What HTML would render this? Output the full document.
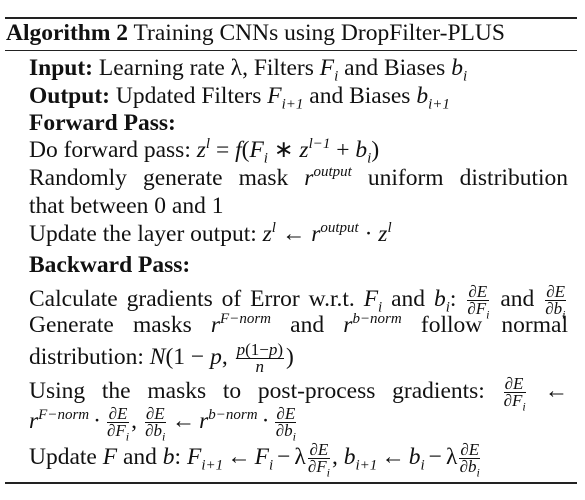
<!DOCTYPE html>
<html><head><meta charset="utf-8">
<style>
body{margin:0;background:#fff;width:585px;height:500px;overflow:hidden;position:relative;font-family:"Liberation Serif",serif;color:#111;}
.rule{position:absolute;left:5px;width:572px;background:#222;}
.ln{position:absolute;left:29px;width:539px;font-size:23.5px;line-height:22px;white-space:nowrap;}
.j{white-space:normal;text-align:justify;text-align-last:justify;height:22px;overflow:visible;}
i{font-style:italic;}
sup,sub{font-size:15px;line-height:0;}
sup i,sub i{font-size:15px;}
.fr{display:inline-block;vertical-align:-8px;text-align:center;font-size:17px;line-height:16px;margin:0 2px;}
.fr span{display:block;}
.fr .n{border-bottom:1px solid #111;padding:0 1px;}
.fr sub{font-size:12px;}
.op{margin:0 4px;}
</style></head><body>
<div class="rule" style="top:17px;height:2px"></div>
<div class="ln" style="left:6px;top:22px;width:570px"><b>Algorithm 2</b> Training CNNs using DropFilter-PLUS</div>
<div class="rule" style="top:50px;height:1px"></div>

<div class="ln" style="top:57px"><b>Input:</b> Learning rate λ, Filters <i>F<sub>i</sub></i> and Biases <i>b<sub>i</sub></i></div>
<div class="ln" style="top:85px"><b>Output:</b> Updated Filters <i>F<sub>i+1</sub></i> and Biases <i>b<sub>i+1</sub></i></div>
<div class="ln" style="top:112px"><b>Forward Pass:</b></div>
<div class="ln" style="top:139px">Do forward pass: <i>z<sup>l</sup></i> = <i>f</i>(<i>F<sub>i</sub></i> ∗ <i>z<sup>l−1</sup></i> + <i>b<sub>i</sub></i>)</div>
<div class="ln j" style="top:167px">Randomly generate mask <i>r<sup>output</sup></i> uniform distribution</div>
<div class="ln" style="top:195px">that between 0 and 1</div>
<div class="ln" style="top:223px">Update the layer output: <i>z<sup>l</sup></i> ← <i>r<sup>output</sup></i> · <i>z<sup>l</sup></i></div>
<div class="ln" style="top:254px"><b>Backward Pass:</b></div>
<div class="ln j" style="top:284px">Calculate gradients of Error w.r.t. <i>F<sub>i</sub></i> and <i>b<sub>i</sub></i>: <span class="fr"><span class="n">∂<i>E</i></span><span>∂<i>F<sub>i</sub></i></span></span> and <span class="fr"><span class="n">∂<i>E</i></span><span>∂<i>b<sub>i</sub></i></span></span></div>
<div class="ln j" style="top:314px">Generate masks <i>r<sup>F−norm</sup></i> and <i>r<sup>b−norm</sup></i> follow normal</div>
<div class="ln" style="top:342px">distribution: <i>N</i>(1 − <i>p</i>, <span class="fr"><span class="n"><i>p</i>(1−<i>p</i>)</span><span><i>n</i></span></span>)</div>
<div class="ln j" style="top:376px">Using the masks to post-process gradients: <span class="fr"><span class="n">∂<i>E</i></span><span>∂<i>F<sub>i</sub></i></span></span> ←</div>
<div class="ln" style="top:406px"><i>r<sup>F−norm</sup></i><span class="op">·</span><span class="fr"><span class="n">∂<i>E</i></span><span>∂<i>F<sub>i</sub></i></span></span>, <span class="fr"><span class="n">∂<i>E</i></span><span>∂<i>b<sub>i</sub></i></span></span><span class="op">←</span><i>r<sup>b−norm</sup></i><span class="op">·</span><span class="fr"><span class="n">∂<i>E</i></span><span>∂<i>b<sub>i</sub></i></span></span></div>
<div class="ln" style="top:442px">Update <i>F</i> and <i>b</i>: <i>F<sub>i+1</sub></i><span class="op">←</span><i>F<sub>i</sub></i><span class="op">−</span>λ<span class="fr"><span class="n">∂<i>E</i></span><span>∂<i>F<sub>i</sub></i></span></span>, <i>b<sub>i+1</sub></i><span class="op">←</span><i>b<sub>i</sub></i><span class="op">−</span>λ<span class="fr"><span class="n">∂<i>E</i></span><span>∂<i>b<sub>i</sub></i></span></span></div>
<div class="rule" style="top:482px;height:2px"></div>
</body></html>
